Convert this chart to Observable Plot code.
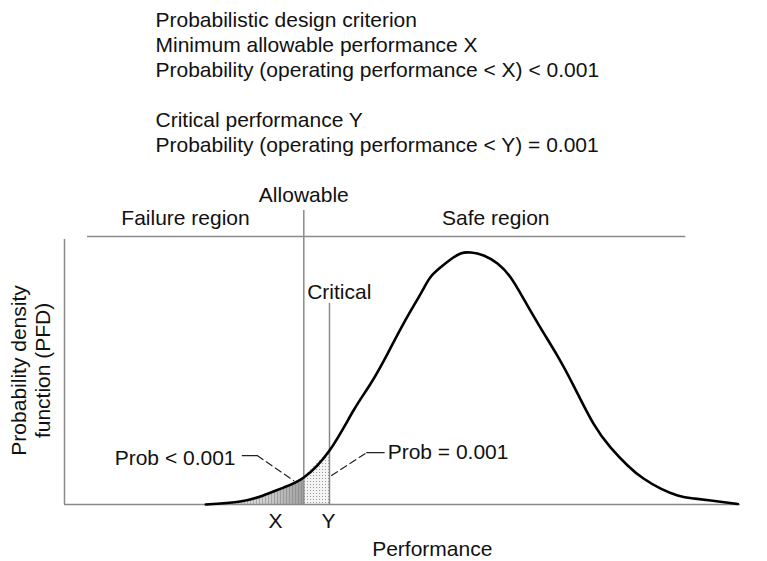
<!DOCTYPE html>
<html><head><meta charset="utf-8">
<script src="https://cdn.jsdelivr.net/npm/d3@7"></script>
<script src="https://cdn.jsdelivr.net/npm/@observablehq/plot@0.6"></script>
<style>body{margin:0;background:#fff}</style>
</head><body><div id="chart"></div>
<script>
// Performance (x) and probability density (y, peak = 1)
const performance = [20.9, 26, 29.4, 32.4, 35.4, 39.2, 42.75, 45.3, 47.8, 50.15, 52.7, 54.1, 55.6, 57.1, 58.6, 60.1, 62, 64.05, 66, 67.9, 70.4, 72.9, 75.3, 78.25, 80.8, 83.3, 85.65, 88.2, 90.7, 93.05, 95.6, 99.6];
const density     = [0, 0.012, 0.036, 0.067, 0.107, 0.214, 0.373, 0.48, 0.599, 0.718, 0.837, 0.901, 0.94, 0.972, 0.996, 1.0, 0.988, 0.956, 0.901, 0.817, 0.702, 0.591, 0.472, 0.321, 0.226, 0.155, 0.103, 0.063, 0.036, 0.024, 0.016, 0.002];
const allowable = 35.4;   // X
const critical = 39.2;    // Y
const headerText = "Probabilistic design criterion\nMinimum allowable performance X\nProbability (operating performance < X) < 0.001\n\nCritical performance Y\nProbability (operating performance < Y) = 0.001";
const regionLabels = ["Failure region", "Safe region"];
const lineLabels = ["Allowable", "Critical"];
const probLabels = ["Prob < 0.001", "Prob = 0.001"];
const tickLabels = ["X", "Y"];
const xLabel = "Performance";
const yLabel = "Probability density\nfunction (PFD)";

const curve = performance.map((x, i) => ({x, y: density[i]}));
const failPart = curve.filter(d => d.x <= allowable);
const critPart = curve.filter(d => d.x >= allowable && d.x <= critical);

const font = "'Liberation Sans', Arial, Helvetica, sans-serif";
const fs = 21;
const grey = "#8a8a8a";
const crv = "natural";

const chart = Plot.plot({
  width: 767, height: 561,
  marginLeft: 64, marginRight: 27, marginTop: 0, marginBottom: 57,
  x: {domain: [0, 100], axis: null},
  y: {domain: [0, 2], axis: null},
  style: {fontFamily: font, background: "#fff", color: "#111"},
  marks: [
    // shaded tails
    Plot.areaY(failPart, {x: "x", y: "y", curve: crv, fill: "url(#failGrad)"}),
    Plot.areaY(failPart, {x: "x", y: "y", curve: crv, fill: "url(#vhatch)"}),
    Plot.areaY(critPart, {x: "x", y: "y", curve: crv, fill: "url(#dots)"}),
    // axes
    Plot.ruleX([0], {y1: 0, y2: 1.052, stroke: grey, strokeWidth: 1.5}),
    Plot.ruleY([0], {x1: 0, x2: 100, stroke: grey, strokeWidth: 1.5}),
    // allowable / critical lines
    Plot.ruleX([allowable], {y1: 0, y2: 1.167, stroke: grey, strokeWidth: 1.5}),
    Plot.ruleX([critical], {y1: 0, y2: 0.798, stroke: grey, strokeWidth: 1.5}),
    // region divider
    Plot.ruleY([1.063], {x1: 3.4, x2: 91.9, stroke: grey, strokeWidth: 1.5}),
    // curve
    Plot.line(curve, {x: "x", y: "y", curve: crv, stroke: "#000", strokeWidth: 2.6}),
    // leaders
    Plot.line([{x: 26.3, y: 0.194}, {x: 28.5, y: 0.194}], {x: "x", y: "y", stroke: "#222", strokeWidth: 1.2}),
    Plot.line([{x: 28.5, y: 0.194}, {x: 33.9, y: 0.095}], {x: "x", y: "y", stroke: "#222", strokeWidth: 1.2, strokeDasharray: "7,4"}),
    Plot.line([{x: 39.5, y: 0.115}, {x: 44.7, y: 0.206}], {x: "x", y: "y", stroke: "#222", strokeWidth: 1.2, strokeDasharray: "7,4"}),
    Plot.line([{x: 44.7, y: 0.206}, {x: 47.3, y: 0.206}], {x: "x", y: "y", stroke: "#222", strokeWidth: 1.2}),
    // texts
    Plot.text([headerText], {x: 13.46, y: 1.679, textAnchor: "start", lineAnchor: "middle", lineHeight: 1.19, fontSize: fs, fill: "#111"}),
    Plot.text([lineLabels[0]], {x: allowable, y: 1.226, fontSize: fs, fill: "#111"}),
    Plot.text([lineLabels[1]], {x: 35.9, y: 0.841, textAnchor: "start", fontSize: fs, fill: "#111"}),
    Plot.text([regionLabels[0]], {x: 17.9, y: 1.135, fontSize: fs, fill: "#111"}),
    Plot.text([regionLabels[1]], {x: 63.8, y: 1.135, fontSize: fs, fill: "#111"}),
    Plot.text([probLabels[0]], {x: 25.3, y: 0.183, textAnchor: "end", fontSize: fs, fill: "#111"}),
    Plot.text([probLabels[1]], {x: 47.8, y: 0.206, textAnchor: "start", fontSize: fs, fill: "#111"}),
    Plot.text([tickLabels[0]], {x: 31.2, y: -0.067, fontSize: fs, fill: "#111"}),
    Plot.text([tickLabels[1]], {x: 39.05, y: -0.067, fontSize: fs, fill: "#111"}),
    Plot.text([xLabel], {x: 54.4, y: -0.179, fontSize: fs, fill: "#111"}),
    Plot.text([yLabel], {x: -5.03, y: 0.532, rotate: -90, lineAnchor: "middle", lineHeight: 1.14, fontSize: fs, fill: "#111"})
  ]
});

const svg = d3.select(chart);
const defs = svg.insert("defs", ":first-child");
const g = defs.append("linearGradient").attr("id", "failGrad").attr("x1", 0).attr("x2", 1).attr("y1", 0).attr("y2", 0);
g.append("stop").attr("offset", "0%").attr("stop-color", "#f2f2f2");
g.append("stop").attr("offset", "60%").attr("stop-color", "#d0d0d0");
g.append("stop").attr("offset", "100%").attr("stop-color", "#a0a0a0");
const vh = defs.append("pattern").attr("id", "vhatch").attr("patternUnits", "userSpaceOnUse").attr("width", 3).attr("height", 3);
vh.append("rect").attr("x", 1).attr("y", 0).attr("width", 1).attr("height", 3).attr("fill", "#777").attr("fill-opacity", 0.45);
const dp = defs.append("pattern").attr("id", "dots").attr("patternUnits", "userSpaceOnUse").attr("width", 3).attr("height", 3);
dp.append("rect").attr("width", 3).attr("height", 3).attr("fill", "#f4f4f4");
dp.append("rect").attr("x", 1).attr("y", 1).attr("width", 1).attr("height", 1).attr("fill", "#9a9a9a");

document.getElementById("chart").appendChild(chart);
</script>
</body></html>
